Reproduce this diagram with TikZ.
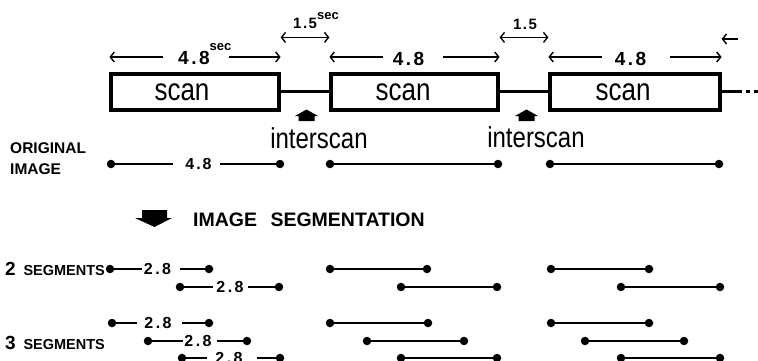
\documentclass[tikz,border=0pt]{standalone}
\usepackage{fontspec}
\setmainfont{Liberation Sans}
\usetikzlibrary{arrows.meta}
\newcommand\nm[3][2.5pt]{#2\kern#1.\kern#1#3}
\newcommand\secsup[1]{\raisebox{#1}{\fontsize{13}{13}\selectfont\bfseries sec}}
\newcommand\tall[1]{\scalebox{1}[1.2]{#1}}
\newcommand\sg[4]{%
  \node[dot] (#1a) at (#2,#4) {};
  \node[dot] (#1b) at (#3,#4) {};
  \draw[seg] (#1a) -- (#1b);}
\newcommand\lsg[7]{%
  \node[dot] (#1a) at (#2,#4) {};
  \node[dot] (#1b) at (#3,#4) {};
  \node[lab] (#1t) at (#5,#4) {\nm[2.5pt]28};
  \coordinate (#1l) at (#6,#4);
  \coordinate (#1r) at (#7,#4);
  \draw[seg] (#1a) -- (#1l);
  \draw[seg] (#1r) -- (#1b);}
\newcommand\uparr[1]{%
  \fill[shift={(#1,0)}] (-11.5,116) -- (0,109.5) -- (11.5,116) -- (8,116) -- (8,121) -- (-8,121) -- (-8,116) -- cycle;}
\begin{document}
\begin{tikzpicture}[x=1pt,y=-1pt,
  box/.style={draw, line width=3.2pt, minimum height=36pt, inner sep=0pt, font=\fontsize{26}{30}\selectfont},
  link/.style={line width=3pt},
  dim/.style={line width=1.4pt, -{Straight Barb[length=4pt,width=10pt]}},
  dimb/.style={line width=1.4pt, {Straight Barb[length=4pt,width=10pt]}-{Straight Barb[length=4pt,width=10pt]}},
  dot/.style={circle, fill, inner sep=0pt, minimum size=8.5pt},
  seg/.style={line width=2.2pt},
  num/.style={font=\fontsize{19}{20}\selectfont\bfseries, inner sep=0pt},
  small/.style={font=\fontsize{15}{16}\selectfont\bfseries, inner sep=0pt},
  lab/.style={font=\fontsize{16}{18}\selectfont\bfseries, inner sep=0pt},
  big/.style={font=\fontsize{24}{28}\selectfont, inner sep=0pt}]
\useasboundingbox (0,0) rectangle (758,361);
\clip (0,0) rectangle (758,361);

% scan boxes
\node[box, minimum width=168pt] (s1) at (195,92) {\tall{scan}\kern26pt};
\node[box, minimum width=167pt] (s2) at (414.5,92) {\tall{scan}\kern23pt};
\node[box, minimum width=170pt] (s3) at (635,92) {\tall{scan}\kern24pt};
\draw[link] (s1.east) -- (s2.west);
\draw[link] (s2.east) -- (s3.west);
\coordinate (e1) at (738,92);
\coordinate (e2) at (762,92);
\draw[link] (s3.east) -- (e1);
\draw[link, dash pattern=on 4pt off 4pt] (e1) -- (e2);

% top dimension lines
\coordinate (a1l) at (163,57); \coordinate (a1r) at (229,57);
\draw[dim] (a1l) -- (a1l -| s1.west);
\draw[dim] (a1r) -- (a1r -| s1.east);
\node[num, anchor=base west] (t1) at (178,65) {\nm[2.5pt]48\secsup{14pt}};
\coordinate (a2l) at (383,57); \coordinate (a2r) at (443,57);
\draw[dim] (a2l) -- (a2l -| s2.west);
\draw[dim] (a2r) -- (a2r -| s2.east);
\node[num] (t2) at (408.5,58.5) {\nm[2.5pt]48};
\coordinate (a3l) at (602,57); \coordinate (a3r) at (670,57);
\draw[dim] (a3l) -- (a3l -| s3.west);
\draw[dim] (a3r) -- (a3r -| s3.east);
\node[num] (t3) at (630.5,58.5) {\nm[2.5pt]48};

% interscan dimension lines
\draw[dimb] ([yshift=35pt]s1.north east) -- ([yshift=35pt]s2.north west);
\node[small, anchor=base west] (u1) at (293,29) {\nm[1.5pt]15\secsup{9pt}};
\draw[dimb] ([yshift=35pt]s2.north east) -- ([yshift=35pt]s3.north west);
\node[small] (u2) at (525,24) {\nm[1.5pt]15};
\coordinate (nx) at (738,39);
\draw[dim] (nx) -- (nx -| s3.east);

% interscan markers
\uparr{306.5}
\uparr{526.5}
\node[big] (i1) at (319,138) {\tall{interscan}};
\node[big] (i2) at (536,137) {\tall{interscan}};

% original image
\node[anchor=west, align=left, font=\fontsize{15.5}{21}\selectfont\bfseries, inner sep=0pt] (orig) at (10,158.5) {ORIGINAL\\IMAGE};
\node[dot] (o1a) at (111,164) {};
\node[dot] (o1b) at (280,164) {};
\node[lab] (o1t) at (198.5,164) {\nm[2pt]48};
\coordinate (o1l) at (173,164); \coordinate (o1r) at (220,164);
\draw[seg] (o1a) -- (o1l);
\draw[seg] (o1r) -- (o1b);
\sg{o2}{330}{498}{164}
\sg{o3}{550}{719}{164}

% image segmentation
\fill (142,210) -- (167,210) -- (167,218) -- (172,218) -- (154.5,227) -- (135,218) -- (142,218) -- cycle;
\node[anchor=west, font=\fontsize{19.5}{22}\selectfont\bfseries, inner sep=0pt] (isg) at (193,220) {IMAGE\hspace{8pt} SEGMENTATION};

% 2 segments
\node[anchor=west, inner sep=0pt, font=\bfseries] (two) at (5,269) {{\fontsize{19}{20}\selectfont 2}\hspace{5pt} {\fontsize{14.5}{16}\selectfont SEGMENTS}};
\lsg{pa}{110}{209}{269}{157.5}{142}{180}
\lsg{pb}{180}{279}{287}{230}{213}{248}
\sg{pc}{330}{427}{269}
\sg{pd}{401}{497}{287}
\sg{pe}{551}{649}{269}
\sg{pf}{621}{720}{287}

% 3 segments
\node[anchor=west, inner sep=0pt, font=\bfseries] (three) at (5,343) {{\fontsize{19}{20}\selectfont 3}\hspace{5pt} {\fontsize{14.5}{16}\selectfont SEGMENTS}};
\lsg{qa}{112}{209}{323}{158}{137}{182}
\lsg{qb}{148}{247}{341}{198}{183}{217}
\lsg{qc}{182}{280}{358}{229}{207}{257}
\sg{qd}{330}{428}{323}
\sg{qe}{367}{464}{341}
\sg{qf}{401}{497}{358}
\sg{qg}{551}{649}{323}
\sg{qh}{585}{684}{341}
\sg{qi}{621}{720}{358}
\end{tikzpicture}
\end{document}
